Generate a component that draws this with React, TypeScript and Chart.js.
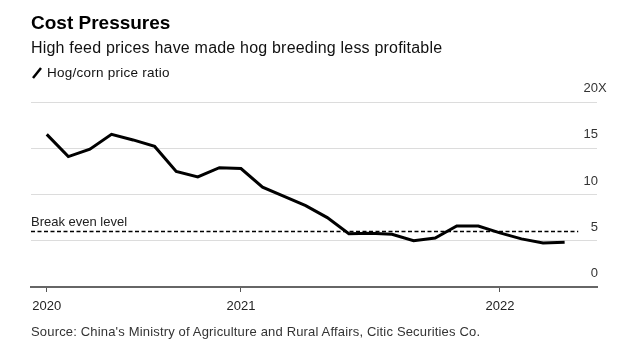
import React, { useEffect, useRef } from "react";
import { Chart, registerables } from "chart.js";

Chart.register(...registerables);

// Monthly hog/corn price ratio, Apr 2020 – Apr 2022
const months = [
  "2020-04", "2020-05", "2020-06", "2020-07", "2020-08", "2020-09", "2020-10", "2020-11", "2020-12",
  "2021-01", "2021-02", "2021-03", "2021-04", "2021-05", "2021-06", "2021-07", "2021-08", "2021-09",
  "2021-10", "2021-11", "2021-12", "2022-01", "2022-02", "2022-03", "2022-04",
];
const ratio = [
  16.5, 14.1, 14.9, 16.5, 15.9, 15.2, 12.5, 11.9, 12.9,
  12.8, 10.8, 9.8, 8.8, 7.5, 5.75, 5.8, 5.7, 5.0,
  5.3, 6.6, 6.6, 5.85, 5.2, 4.75, 4.85,
];
const yTicks = [0, 5, 10, 15, 20];
const yUnit = "X";
const breakEven = 6;
const breakEvenLabel = "Break even level";
const xMin = -0.73;
const xMax = 25.5;
const breakEvenEnd = 24.63;

const FONT = "'Liberation Sans', Arial, Helvetica, sans-serif";

function yearTickIndices(): number[] {
  const idx: number[] = [];
  months.forEach((m, i) => {
    if (i === 0 || m.endsWith("-01")) idx.push(i);
  });
  return idx;
}

const overlayPlugin = {
  id: "overlay",
  afterDatasetsDraw(chart: any) {
    const { ctx, chartArea, scales } = chart;
    const y = scales.y;
    ctx.save();
    ctx.font = `13px ${FONT}`;
    ctx.fillStyle = "#333";
    ctx.textBaseline = "middle";
    y.ticks.forEach((t: any) => {
      const py = y.getPixelForValue(t.value) - 13.5;
      const label = String(t.value);
      ctx.textAlign = "right";
      ctx.fillText(label, chartArea.right + 1, py);
      if (t.value === yTicks[yTicks.length - 1]) {
        ctx.textAlign = "left";
        ctx.fillText(yUnit, chartArea.right + 1, py);
      }
    });
    ctx.textAlign = "left";
    ctx.fillStyle = "#222";
    ctx.fillText(breakEvenLabel, chartArea.left, y.getPixelForValue(breakEven) - 9);
    ctx.restore();
  },
};

export default function App() {
  const ref = useRef<HTMLCanvasElement>(null);

  useEffect(() => {
    if (!ref.current) return;
    const ticksIdx = yearTickIndices();
    const chart = new Chart(ref.current, {
      type: "line",
      data: {
        datasets: [
          {
            label: "Hog/corn price ratio",
            data: ratio.map((v, i) => ({ x: i, y: v })),
            borderColor: "#000",
            borderWidth: 3,
            pointRadius: 0,
            tension: 0,
            order: 0,
          },
          {
            label: breakEvenLabel,
            data: [
              { x: xMin, y: breakEven },
              { x: breakEvenEnd, y: breakEven },
            ],
            borderColor: "#000",
            borderWidth: 1.5,
            borderDash: [4, 2.5],
            pointRadius: 0,
            order: 1,
          },
        ],
      },
      options: {
        responsive: false,
        animation: false,
        layout: { padding: { left: 31, right: 43, top: 102, bottom: 37 } },
        plugins: { legend: { display: false }, tooltip: { enabled: false }, title: { display: false } },
        scales: {
          x: {
            type: "linear",
            min: xMin,
            max: xMax,
            afterBuildTicks: (axis: any) => {
              axis.ticks = ticksIdx.map((v) => ({ value: v }));
            },
            afterFit: (axis: any) => {
              axis.height = 30;
            },
            grid: {
              drawOnChartArea: false,
              drawTicks: true,
              tickLength: 5,
              tickColor: "#555",
              tickWidth: 1,
            },
            border: { display: true, color: "#666", width: 2 },
            ticks: {
              autoSkip: false,
              maxRotation: 0,
              padding: 7,
              color: "#222",
              font: { family: FONT, size: 13 },
              callback: (v: any) => months[Number(v)]?.slice(0, 4) ?? "",
            },
          },
          y: {
            position: "right",
            min: 0,
            max: 20,
            afterBuildTicks: (axis: any) => {
              axis.ticks = yTicks.map((v) => ({ value: v }));
            },
            afterFit: (axis: any) => {
              axis.width = 0;
            },
            grid: {
              color: (c: any) => (c.tick && c.tick.value === 0 ? "rgba(0,0,0,0)" : "#dcdcdc"),
              lineWidth: 1,
              drawTicks: false,
            },
            border: { display: false },
            ticks: { display: false },
          },
        },
      },
      plugins: [overlayPlugin],
    });
    return () => chart.destroy();
  }, []);

  const textBase: React.CSSProperties = {
    position: "absolute",
    left: 31,
    fontFamily: FONT,
    whiteSpace: "nowrap",
    margin: 0,
  };

  return (
    <div
      style={{
        position: "fixed",
        left: 0,
        top: 0,
        width: 640,
        height: 354,
        background: "#fff",
        overflow: "hidden",
      }}
    >
      <canvas ref={ref} width={640} height={354} style={{ position: "absolute", left: 0, top: 0 }} />
      <div style={{ ...textBase, top: 12.5, fontSize: 19, lineHeight: "19px", fontWeight: 700, color: "#000" }}>
        Cost Pressures
      </div>
      <div style={{ ...textBase, top: 39.5, fontSize: 16, lineHeight: "16px", letterSpacing: 0.2, color: "#111" }}>
        High feed prices have made hog breeding less profitable
      </div>
      <div style={{ ...textBase, top: 66, fontSize: 13.5, lineHeight: "13.5px", letterSpacing: 0.25, color: "#111", display: "flex", alignItems: "center" }}>
        <svg width="12" height="12" style={{ marginRight: 4 }}>
          <line x1="2" y1="11" x2="10" y2="1" stroke="#000" strokeWidth="2.5" />
        </svg>
        Hog/corn price ratio
      </div>
      <div style={{ ...textBase, top: 324.5, fontSize: 13, lineHeight: "13px", letterSpacing: 0.17, color: "#333" }}>
        Source: China's Ministry of Agriculture and Rural Affairs, Citic Securities Co.
      </div>
    </div>
  );
}
